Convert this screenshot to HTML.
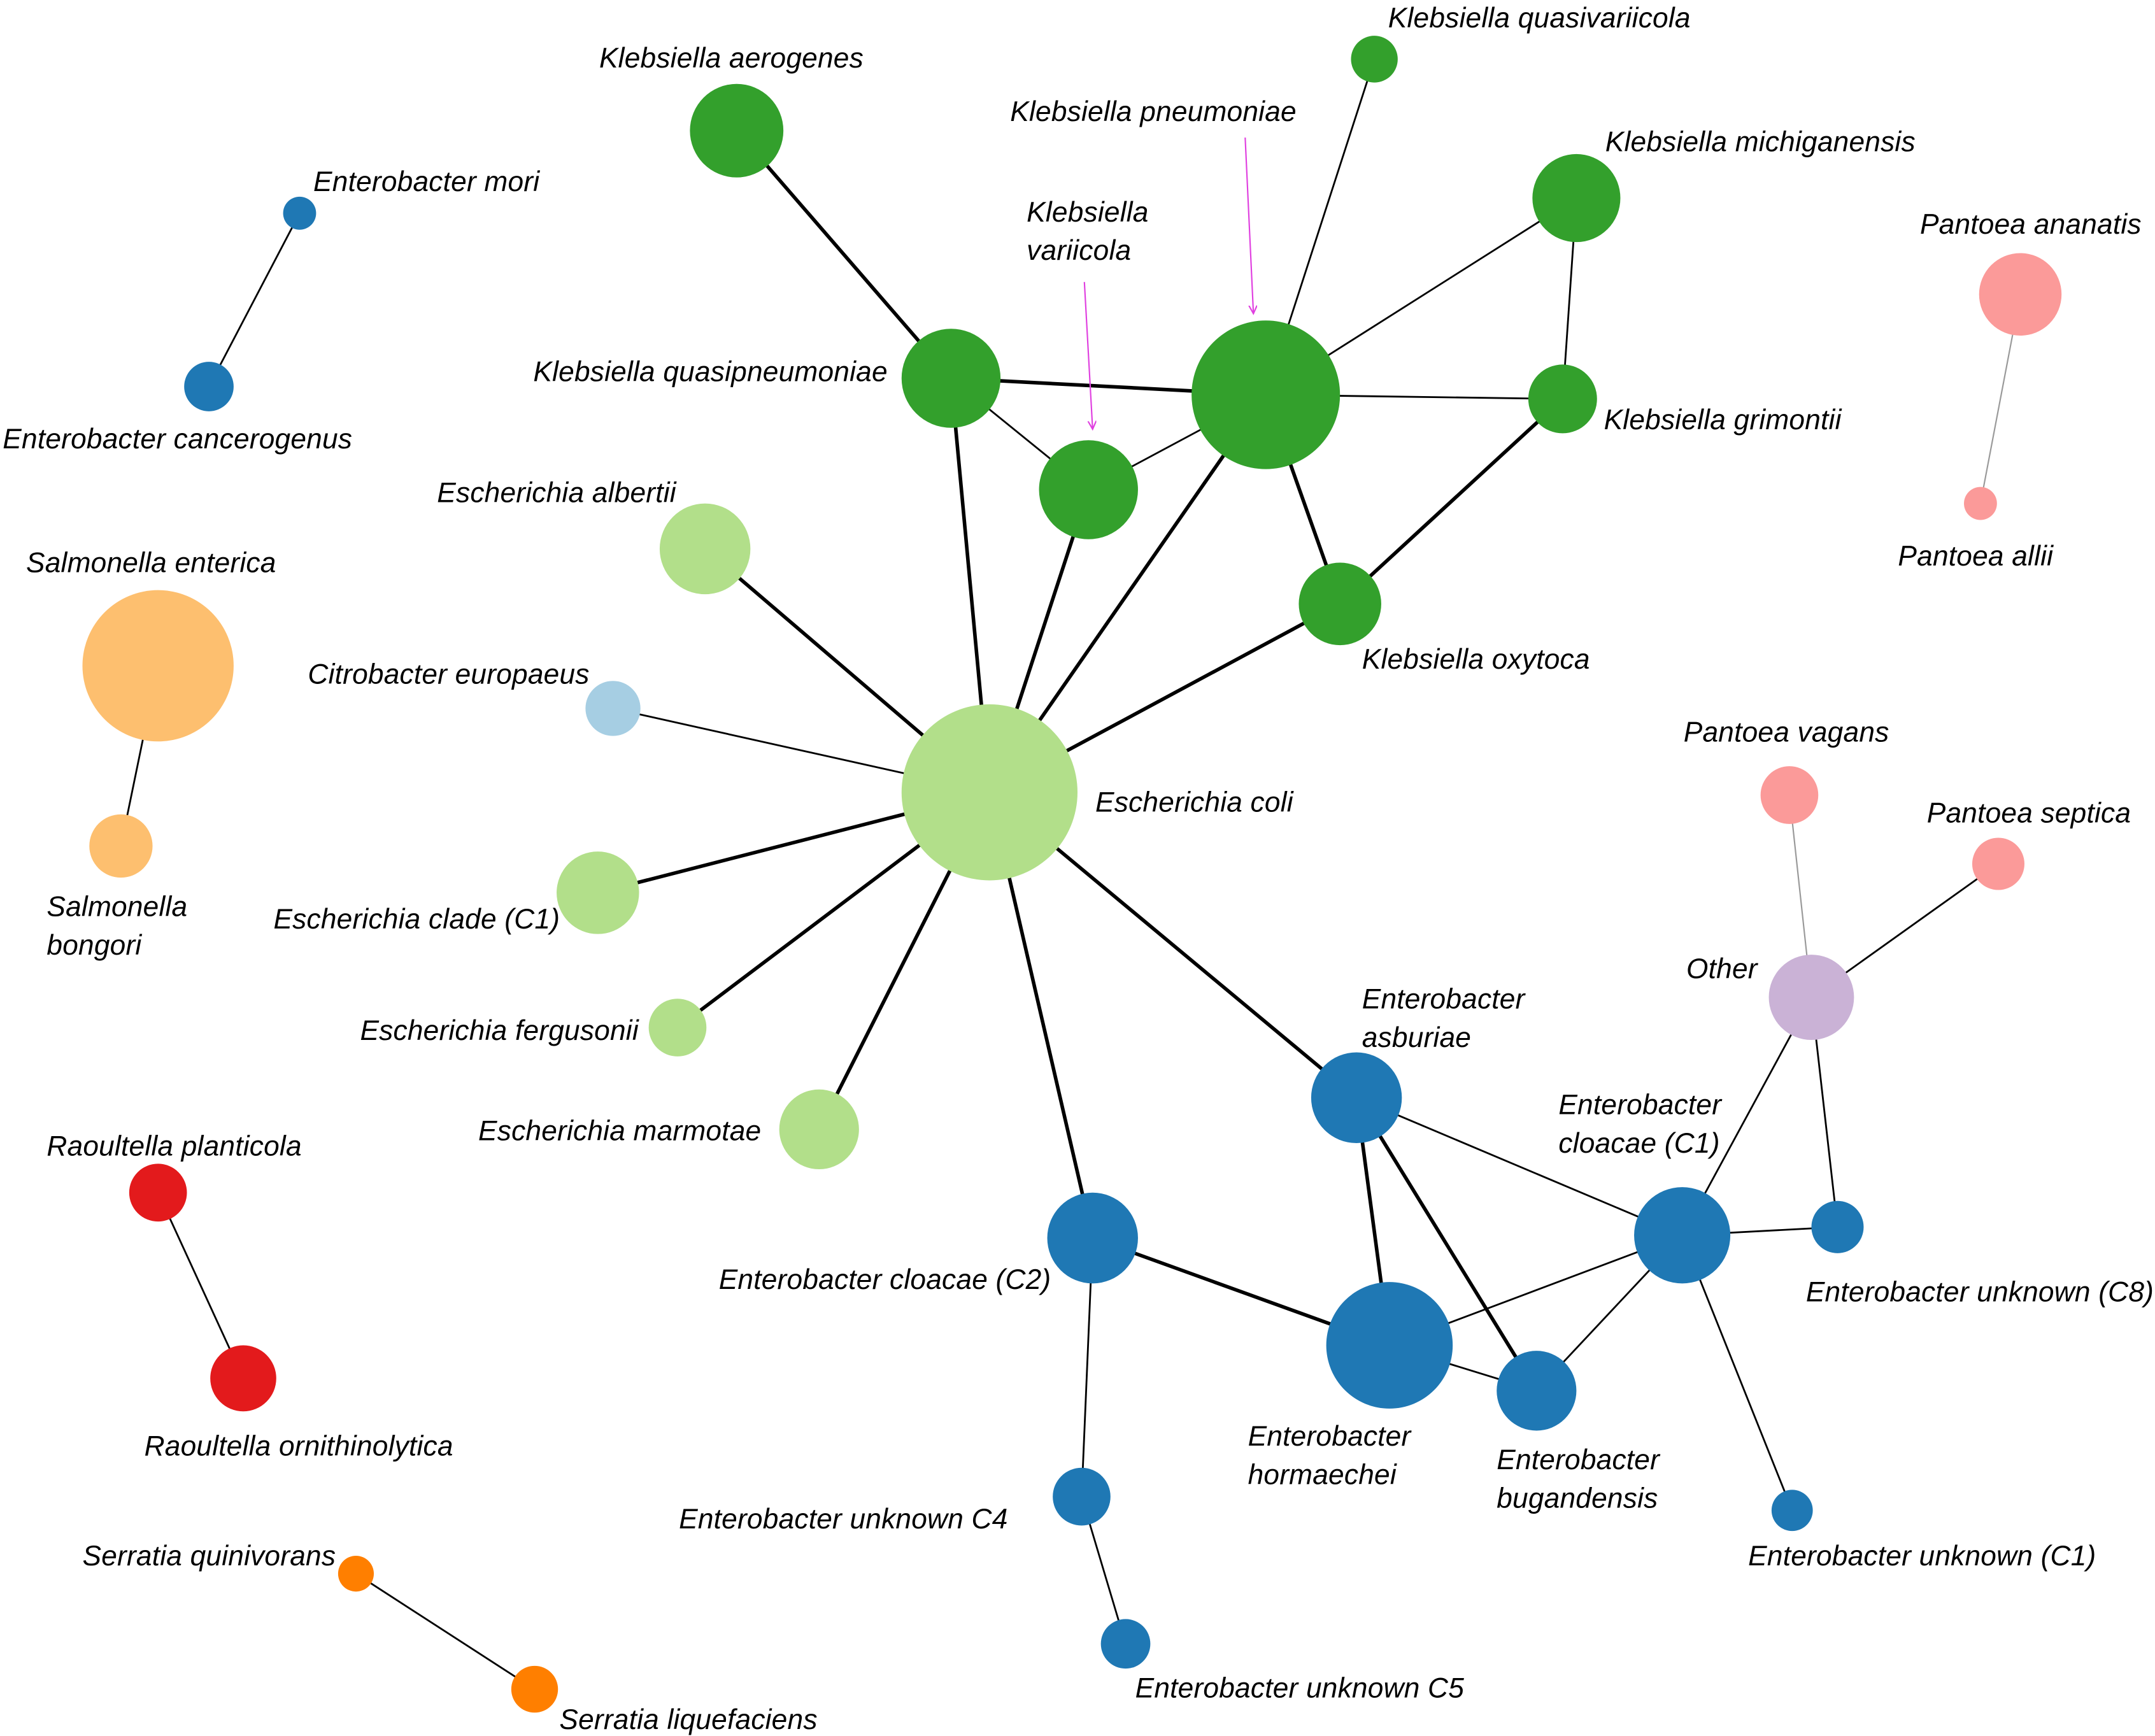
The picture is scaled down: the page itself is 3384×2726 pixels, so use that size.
<!DOCTYPE html>
<html><head><meta charset="utf-8"><style>html,body{margin:0;padding:0;background:#fff}svg{display:block}</style></head>
<body>
<svg width="3384" height="2726" viewBox="0 0 1568 1262" preserveAspectRatio="none" xmlns="http://www.w3.org/2000/svg">
<defs><marker id="ah" markerWidth="8" markerHeight="8" refX="6" refY="3" orient="auto" markerUnits="userSpaceOnUse"><path d="M0,0 L6,3 L0,6" fill="none" stroke="#e040e0" stroke-width="1"/></marker></defs>
<g stroke="#000" fill="none">
<g stroke-width="1.3">
<line x1="218" y1="155" x2="152" y2="281"/>
<line x1="1000" y1="43" x2="921" y2="287"/>
<line x1="1147" y1="144" x2="921" y2="287"/>
<line x1="1147" y1="144" x2="1137" y2="290"/>
<line x1="692" y1="275" x2="792" y2="356"/>
<line x1="792" y1="356" x2="921" y2="287"/>
<line x1="921" y1="287" x2="1137" y2="290"/>
<line x1="446" y1="515" x2="720" y2="576"/>
<line x1="115" y1="484" x2="88" y2="615"/>
<line x1="1454" y1="628" x2="1318" y2="725"/>
<line x1="1318" y1="725" x2="1224" y2="898"/>
<line x1="1318" y1="725" x2="1337" y2="892"/>
<line x1="987" y1="798" x2="1224" y2="898"/>
<line x1="1224" y1="898" x2="1337" y2="892"/>
<line x1="1224" y1="898" x2="1011" y2="978"/>
<line x1="1224" y1="898" x2="1118" y2="1011"/>
<line x1="1224" y1="898" x2="1304" y2="1098"/>
<line x1="1011" y1="978" x2="1118" y2="1011"/>
<line x1="795" y1="900" x2="787" y2="1088"/>
<line x1="787" y1="1088" x2="819" y2="1195"/>
<line x1="115" y1="867" x2="177" y2="1002"/>
<line x1="259" y1="1144" x2="389" y2="1228"/>
</g>
<g stroke-width="1" stroke="#999">
<line x1="1470" y1="214" x2="1441" y2="366"/>
<line x1="1302" y1="578" x2="1318" y2="725"/>
</g>
<g stroke-width="2.6">
<line x1="536" y1="95" x2="692" y2="275"/>
<line x1="692" y1="275" x2="921" y2="287"/>
<line x1="921" y1="287" x2="975" y2="439"/>
<line x1="1137" y1="290" x2="975" y2="439"/>
<line x1="692" y1="275" x2="720" y2="576"/>
<line x1="792" y1="356" x2="720" y2="576"/>
<line x1="921" y1="287" x2="720" y2="576"/>
<line x1="975" y1="439" x2="720" y2="576"/>
<line x1="513" y1="399" x2="720" y2="576"/>
<line x1="435" y1="649" x2="720" y2="576"/>
<line x1="493" y1="747" x2="720" y2="576"/>
<line x1="596" y1="821" x2="720" y2="576"/>
<line x1="720" y1="576" x2="987" y2="798"/>
<line x1="720" y1="576" x2="795" y2="900"/>
<line x1="987" y1="798" x2="1011" y2="978"/>
<line x1="987" y1="798" x2="1118" y2="1011"/>
<line x1="795" y1="900" x2="1011" y2="978"/>
</g>
</g>
<g stroke="#e040e0" stroke-width="1" marker-end="url(#ah)">
<line x1="906" y1="100" x2="912" y2="228"/>
<line x1="789" y1="205" x2="795" y2="312"/>
</g>
<g stroke="none">
<circle cx="218" cy="155" r="12" fill="#1f78b4"/>
<circle cx="152" cy="281" r="18" fill="#1f78b4"/>
<circle cx="536" cy="95" r="34" fill="#33a02c"/>
<circle cx="1000" cy="43" r="17" fill="#33a02c"/>
<circle cx="921" cy="287" r="54" fill="#33a02c"/>
<circle cx="1147" cy="144" r="32" fill="#33a02c"/>
<circle cx="692" cy="275" r="36" fill="#33a02c"/>
<circle cx="792" cy="356" r="36" fill="#33a02c"/>
<circle cx="1137" cy="290" r="25" fill="#33a02c"/>
<circle cx="975" cy="439" r="30" fill="#33a02c"/>
<circle cx="1470" cy="214" r="30" fill="#fb9a99"/>
<circle cx="1441" cy="366" r="12" fill="#fb9a99"/>
<circle cx="513" cy="399" r="33" fill="#b2df8a"/>
<circle cx="115" cy="484" r="55" fill="#fdbf6f"/>
<circle cx="446" cy="515" r="20" fill="#a6cee3"/>
<circle cx="720" cy="576" r="64" fill="#b2df8a"/>
<circle cx="88" cy="615" r="23" fill="#fdbf6f"/>
<circle cx="435" cy="649" r="30" fill="#b2df8a"/>
<circle cx="493" cy="747" r="21" fill="#b2df8a"/>
<circle cx="596" cy="821" r="29" fill="#b2df8a"/>
<circle cx="1302" cy="578" r="21" fill="#fb9a99"/>
<circle cx="1454" cy="628" r="19" fill="#fb9a99"/>
<circle cx="1318" cy="725" r="31" fill="#cab2d6"/>
<circle cx="987" cy="798" r="33" fill="#1f78b4"/>
<circle cx="1224" cy="898" r="35" fill="#1f78b4"/>
<circle cx="1337" cy="892" r="19" fill="#1f78b4"/>
<circle cx="795" cy="900" r="33" fill="#1f78b4"/>
<circle cx="1011" cy="978" r="46" fill="#1f78b4"/>
<circle cx="1118" cy="1011" r="29" fill="#1f78b4"/>
<circle cx="787" cy="1088" r="21" fill="#1f78b4"/>
<circle cx="819" cy="1195" r="18" fill="#1f78b4"/>
<circle cx="1304" cy="1098" r="15" fill="#1f78b4"/>
<circle cx="115" cy="867" r="21" fill="#e31a1c"/>
<circle cx="177" cy="1002" r="24" fill="#e31a1c"/>
<circle cx="259" cy="1144" r="13" fill="#ff7f00"/>
<circle cx="389" cy="1228" r="17" fill="#ff7f00"/>
</g>
<g font-family="Liberation Sans, sans-serif" font-style="italic" font-size="20.5" letter-spacing="0.1" fill="#000">
<text x="228" y="139">Enterobacter mori</text>
<text x="2" y="326">Enterobacter cancerogenus</text>
<text x="436" y="49">Klebsiella aerogenes</text>
<text x="1010" y="20">Klebsiella quasivariicola</text>
<text x="735" y="88">Klebsiella pneumoniae</text>
<text x="1168" y="110">Klebsiella michiganensis</text>
<text x="747" y="161">Klebsiella</text>
<text x="747" y="189">variicola</text>
<text x="388" y="277">Klebsiella quasipneumoniae</text>
<text x="1167" y="312">Klebsiella grimontii</text>
<text x="991" y="486">Klebsiella oxytoca</text>
<text x="1397" y="170">Pantoea ananatis</text>
<text x="1381" y="411">Pantoea allii</text>
<text x="318" y="365">Escherichia albertii</text>
<text x="19" y="416">Salmonella enterica</text>
<text x="224" y="497">Citrobacter europaeus</text>
<text x="797" y="590">Escherichia coli</text>
<text x="34" y="666">Salmonella</text>
<text x="34" y="694">bongori</text>
<text x="199" y="675">Escherichia clade (C1)</text>
<text x="262" y="756">Escherichia fergusonii</text>
<text x="348" y="829">Escherichia marmotae</text>
<text x="1225" y="539">Pantoea vagans</text>
<text x="1402" y="598">Pantoea septica</text>
<text x="1227" y="711">Other</text>
<text x="991" y="733">Enterobacter</text>
<text x="991" y="761">asburiae</text>
<text x="1134" y="810">Enterobacter</text>
<text x="1134" y="838">cloacae (C1)</text>
<text x="1314" y="946">Enterobacter unknown (C8)</text>
<text x="523" y="937">Enterobacter cloacae (C2)</text>
<text x="908" y="1051">Enterobacter</text>
<text x="908" y="1079">hormaechei</text>
<text x="1089" y="1068">Enterobacter</text>
<text x="1089" y="1096">bugandensis</text>
<text x="494" y="1111">Enterobacter unknown C4</text>
<text x="826" y="1234">Enterobacter unknown C5</text>
<text x="1272" y="1138">Enterobacter unknown (C1)</text>
<text x="34" y="840">Raoultella planticola</text>
<text x="105" y="1058">Raoultella ornithinolytica</text>
<text x="60" y="1138">Serratia quinivorans</text>
<text x="407" y="1257">Serratia liquefaciens</text>
</g>
</svg>
</body></html>
